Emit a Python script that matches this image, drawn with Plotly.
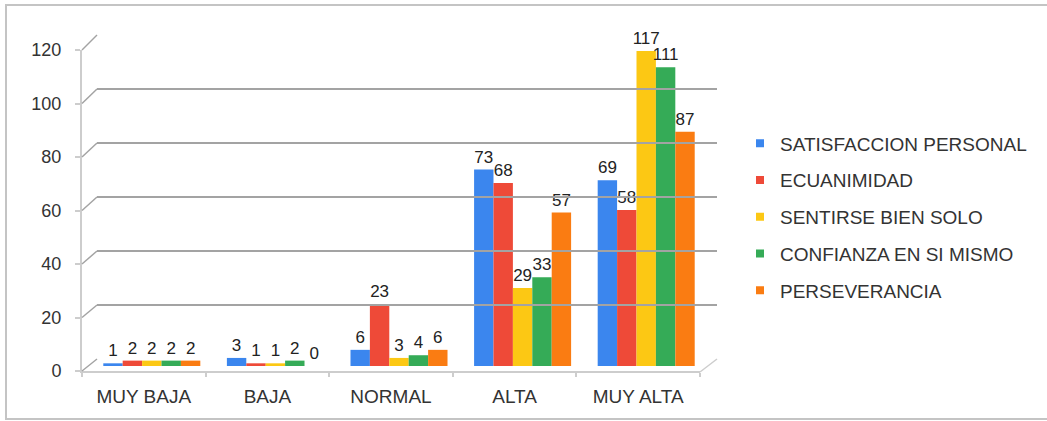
import plotly.graph_objects as go

# ---- data -----------------------------------------------------------------
CATEGORIES = ["MUY BAJA", "BAJA", "NORMAL", "ALTA", "MUY ALTA"]
SERIES = [
    "SATISFACCION PERSONAL",
    "ECUANIMIDAD",
    "SENTIRSE BIEN SOLO",
    "CONFIANZA EN SI MISMO",
    "PERSEVERANCIA",
]
SATISFACCION = [1, 3, 6, 73, 69]
ECUANIMIDAD = [2, 1, 23, 68, 58]
SENTIRSE = [2, 1, 3, 29, 117]
CONFIANZA = [2, 2, 4, 33, 111]
PERSEVERANCIA = [2, 0, 6, 57, 87]
Y_TICKS = [0, 20, 40, 60, 80, 100, 120]

VALUES = [SATISFACCION, ECUANIMIDAD, SENTIRSE, CONFIANZA, PERSEVERANCIA]
COLORS = ["#3b86ee", "#ee4a38", "#fcc814", "#35ab57", "#fa7c12"]

# ---- page geometry (pixels) -----------------------------------------------
W, H = 1047, 421
Y_MAX = 120


def fx(px):
    return px / W


def fy(py):
    return 1 - py / H


# three depth planes of the pseudo-3D box: front axis, bar plane, back wall
FRONT = dict(x0=82, x1=700, y0=371, y1=50)
MID = dict(x0=90, x1=708, y0=366, y1=43)
BACK = dict(x0=97, x1=717, y0=359, y1=35)


def plane_y(plane, v):
    return plane["y0"] - v * (plane["y0"] - plane["y1"]) / Y_MAX


FONT = "Liberation Sans, Arial, sans-serif"
GRID = "#a3a3a3"
EDGE = "#cdcdcd"

fig = go.Figure()

# bars
for name, vals, col in zip(SERIES, VALUES, COLORS):
    fig.add_trace(go.Bar(
        x=CATEGORIES, y=vals, name=name,
        marker=dict(color=col, line=dict(width=0)),
        text=vals, texttemplate="%{y}", textposition="outside",
        textfont=dict(family=FONT, size=17, color="#222222"),
        constraintext="none", cliponaxis=False,
        showlegend=False, hoverinfo="x+y+name",
        xaxis="x", yaxis="y",
    ))

# legend entries (small square keys)
for i, (name, col) in enumerate(zip(SERIES, COLORS)):
    fig.add_trace(go.Scatter(
        x=[None], y=[None], name=name, mode="markers",
        marker=dict(symbol="square", size=8, color=col),
        legendgroup=f"g{i}", showlegend=True,
        xaxis="x", yaxis="y",
    ))

# back wall holder (gridlines) and front axis holder (labels)
fig.add_trace(go.Scatter(x=[0], y=[None], mode="markers", showlegend=False,
                         hoverinfo="skip", xaxis="x2", yaxis="y2"))
fig.add_trace(go.Scatter(x=CATEGORIES, y=[0] * len(CATEGORIES), mode="markers",
                         marker=dict(opacity=0), showlegend=False,
                         hoverinfo="skip", xaxis="x3", yaxis="y3"))

shapes = []
# connectors from the front axis ticks to the back wall gridlines
for v in Y_TICKS:
    shapes.append(dict(
        type="line", xref="paper", yref="paper",
        x0=fx(FRONT["x0"]), y0=fy(plane_y(FRONT, v)),
        x1=fx(BACK["x0"]), y1=fy(plane_y(BACK, v)),
        line=dict(color=GRID, width=1.5),
    ))
# right edge of the floor
shapes.append(dict(
    type="line", xref="paper", yref="paper",
    x0=fx(FRONT["x1"]), y0=fy(FRONT["y0"] + 1),
    x1=fx(BACK["x1"]), y1=fy(BACK["y0"]),
    line=dict(color=EDGE, width=1.5),
))
# chart frame
shapes.append(dict(
    type="rect", xref="paper", yref="paper",
    x0=fx(6), y0=fy(419), x1=1.02, y1=fy(5),
    line=dict(color="#c4c4c4", width=2), fillcolor="rgba(0,0,0,0)",
    layer="below",
))

fig.update_layout(
    width=W, height=H,
    margin=dict(l=0, r=0, t=0, b=0, autoexpand=False),
    paper_bgcolor="white", plot_bgcolor="rgba(0,0,0,0)",
    barmode="group", bargap=0.215, bargroupgap=0,
    font=dict(family=FONT, color="#333333"),
    shapes=shapes,
    xaxis=dict(domain=[fx(MID["x0"]), fx(MID["x1"])], anchor="y",
               visible=False, type="category", automargin=False),
    yaxis=dict(domain=[fy(MID["y0"]), fy(MID["y1"])], anchor="x",
               range=[0, Y_MAX], visible=False, automargin=False),
    xaxis2=dict(domain=[fx(BACK["x0"]), fx(BACK["x1"])], anchor="y2",
                range=[0, 1], showgrid=False, zeroline=False, automargin=False,
                showticklabels=False, showline=False, ticks=""),
    yaxis2=dict(domain=[fy(BACK["y0"]), fy(BACK["y1"])], anchor="x2",
                range=[-0.01, Y_MAX + 0.01], tickvals=Y_TICKS, showgrid=True,
                gridcolor=GRID, gridwidth=1.5, zeroline=False, automargin=False,
                showticklabels=False, showline=False, ticks=""),
    xaxis3=dict(domain=[fx(FRONT["x0"]), fx(FRONT["x1"])], anchor="y3",
                type="category", categoryorder="array", categoryarray=CATEGORIES,
                range=[-0.5, len(CATEGORIES) - 0.5], automargin=False,
                showgrid=False, zeroline=False, showline=True,
                linecolor=EDGE, linewidth=2,
                ticks="outside", tickson="boundaries", ticklen=4,
                tickcolor=EDGE, tickwidth=1.5, ticklabelstandoff=7,
                tickfont=dict(family=FONT, size=19, color="#333333")),
    yaxis3=dict(domain=[fy(FRONT["y0"]), fy(FRONT["y1"])], anchor="x3",
                range=[0, Y_MAX], tickvals=Y_TICKS, showgrid=False,
                zeroline=False, showline=True, linecolor=EDGE, linewidth=2,
                ticks="outside", ticklen=5, tickcolor=EDGE, tickwidth=1.5,
                ticklabelstandoff=10, automargin=False,
                tickfont=dict(family=FONT, size=18, color="#333333")),
    legend=dict(x=fx(740), xanchor="left", y=fy(217), yanchor="middle",
                font=dict(family=FONT, size=19, color="#333333"),
                itemsizing="trace", tracegroupgap=9,
                bgcolor="rgba(0,0,0,0)"),
    showlegend=True,
)

fig.write_html("out.html")
